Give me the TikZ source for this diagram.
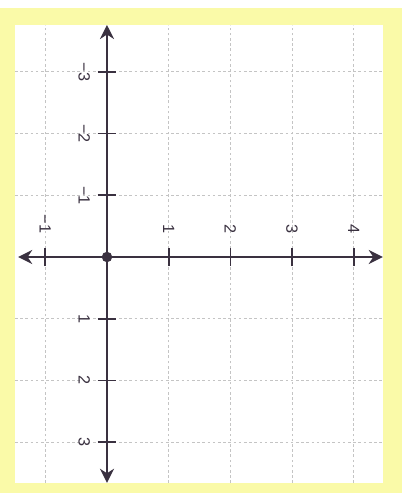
\documentclass[tikz,border=0pt]{standalone}
\usepackage{fontspec}
\setsansfont{Liberation Sans}
\usetikzlibrary{arrows.meta}

\definecolor{axiscol}{HTML}{3A3140}
\definecolor{paper}{HTML}{FAFAA8}
\definecolor{gridcol}{HTML}{C4C4C4}

\begin{document}
\begin{tikzpicture}[scale=1,
  gridline/.style={draw=gridcol, line width=0.4pt, dash pattern=on 1.2pt off 1.2pt},
  axisline/.style={draw=axiscol, line width=0.9pt, {Stealth[length=6.5pt,width=6.5pt]}-{Stealth[length=6.5pt,width=6.5pt]}},
  tickmark/.style={draw=axiscol, line width=0.8pt},
  numlbl/.style={font=\sffamily\fontsize{7.5}{8}\selectfont, text=axiscol, inner sep=0pt, rotate=-90},
  origin/.style={circle, fill=axiscol, inner sep=0pt, minimum size=0.17cm}
]
% Frame and paper
\useasboundingbox (-1.734,-3.825) rectangle (4.862,4.165);
\fill[white] (-1.734,-3.825) rectangle (4.862,4.165);
\fill[paper] (-1.734,-3.825) rectangle (4.781,4.036);
\fill[white] (-1.491,-3.663) rectangle (4.473,3.76);

% Dashed grid
\foreach \x in {-1,1,2,3,4}
  \draw[gridline] (\x,-3.663) -- (\x,3.76);
\foreach \y in {-3,-2,-1,1,2,3}
  \draw[gridline] (-1.491,\y) -- (4.473,\y);

% Axes
\coordinate (xl) at (-1.44,0);
\coordinate (xr) at (4.47,0);
\coordinate (yt) at (0,3.76);
\coordinate (yb) at (0,-3.66);
\draw[axisline] (xl) -- (xr);
\draw[axisline] (yt) -- (yb);

% Ticks and labels on the horizontal axis
\foreach \x/\t in {-1/−1, 1/1, 2/2, 3/3, 4/4} {
  \draw[tickmark] (\x,-0.15) -- (\x,0.15);
  \node[numlbl, anchor=east] (h\x) at (\x,0.38) {\t};
}

% Ticks and labels on the vertical axis
\foreach \y/\t in {3/−3, 2/−2, 1/−1, -1/1, -2/2, -3/3} {
  \draw[tickmark] (-0.15,\y) -- (0.15,\y);
  \node[numlbl, anchor=north] (v\y) at (-0.27,\y) {\t};
}

% Origin
\node[origin] (o) at (0,0) {};
\end{tikzpicture}
\end{document}
